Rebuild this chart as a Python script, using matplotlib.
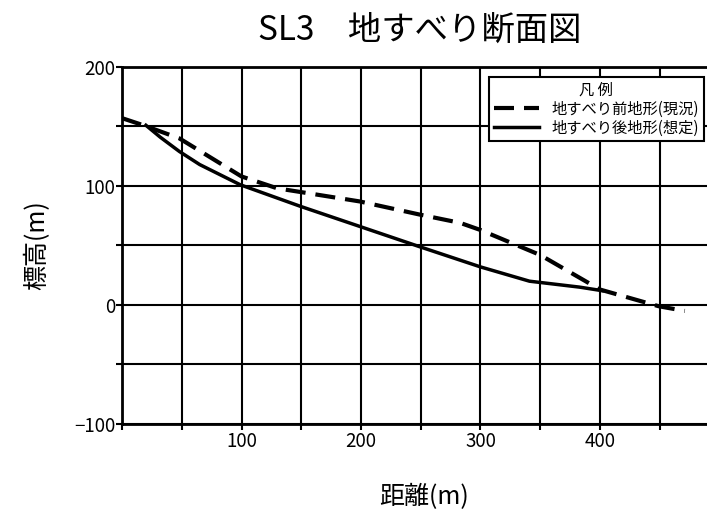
import matplotlib
matplotlib.use("Agg")
import matplotlib.pyplot as plt
import numpy as np

plt.rcParams['font.family'] = ['Noto Sans CJK JP', 'DejaVu Sans']

title = "SL3　地すべり断面図"
xlabel = "距離(m)"
ylabel = "標高(m)"
legend_title = "凡 例"
label_before = "地すべり前地形(現況)"
label_after = "地すべり後地形(想定)"

before_x = [0, 18, 48, 100, 130, 149, 199, 249, 283, 300, 350, 400, 449, 471]
before_y = [157, 151, 140, 108, 98, 95, 87, 76, 69, 63, 42, 13, -1, -5]

after_x = [20, 32, 48, 65, 99, 149, 199, 249, 300, 341, 383, 402]
after_y = [151, 141, 129, 118, 101, 83, 66, 49, 32, 20, 15, 12]

xticks = [100, 200, 300, 400]
yticks = [-100, 0, 100, 200]

fig = plt.figure(figsize=(7.07, 5.14), dpi=100)
ax = fig.add_axes([0.1726, 0.1751, 0.845, 0.6946])
ax.set_xlim(0, 500)
ax.set_ylim(-100, 200)

xs = np.arange(0, 501, 50)
ys = np.arange(-100, 201, 50)
ax.set_xticks(xs)
ax.set_xticklabels([str(v) if v in xticks else "" for v in xs])
ax.set_yticks(ys)
ax.set_yticklabels([("−" + str(-v) if v < 0 else str(v)) if v in yticks else "" for v in ys])
ax.tick_params(axis='both', direction='out', length=4, width=1.5, labelsize=13.5, pad=1)
ax.grid(True, color='black', linewidth=1.5)
ax.set_axisbelow(True)
for s in ax.spines.values():
    s.set_linewidth(2)
    s.set_color('black')

ax.plot(before_x, before_y, color='black', linewidth=3, linestyle=(0, (4.8, 2.4)), label=label_before, zorder=3)
ax.plot(after_x, after_y, color='black', linewidth=2.5, linestyle='-', label=label_after, zorder=3)

leg = ax.legend(loc='upper left', bbox_to_anchor=(0.6917, 0.8496), bbox_transform=fig.transFigure,
                title=legend_title, fontsize=11, title_fontsize=11, frameon=True, fancybox=False,
                borderpad=0.3, handlelength=3.0, labelspacing=0.12, handletextpad=0.8,
                borderaxespad=0)
leg.get_frame().set_edgecolor('black')
leg.get_frame().set_linewidth(1.5)
leg.get_frame().set_alpha(1)

fig.text(0.594, 0.942, title, ha='center', va='center', fontsize=24)
fig.text(0.6, 0.033, xlabel, ha='center', va='center', fontsize=18)
fig.text(0.053, 0.523, ylabel, ha='center', va='center', fontsize=18, rotation=90)

fig.savefig("out.png", dpi=100)
